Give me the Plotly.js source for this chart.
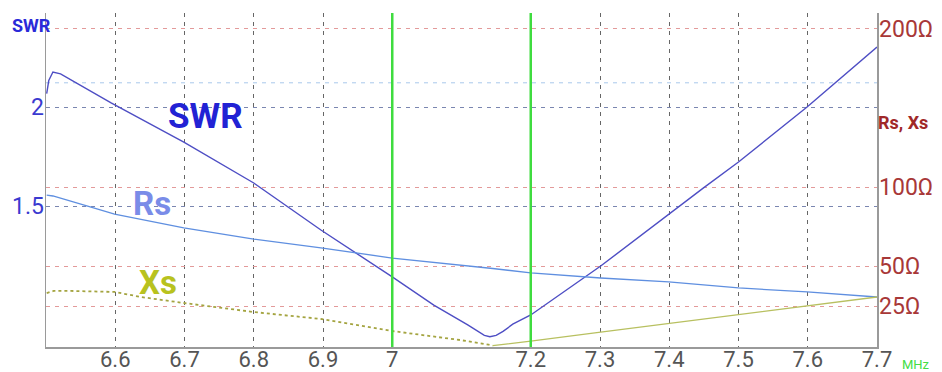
<!DOCTYPE html>
<html>
<head>
<meta charset="utf-8">
<script src="https://cdn.plot.ly/plotly-3.0.1.min.js"></script>
<style>html,body{margin:0;padding:0;background:#fff;}#chart{width:942px;height:372px;}</style>
</head>
<body>
<div id="chart"></div>
<script>
// ---- data ----
const swrFreq = [6.501, 6.504, 6.510, 6.521, 6.594, 6.699, 6.800, 6.897, 7.000, 7.060, 7.109, 7.125, 7.133, 7.141, 7.150, 7.160, 7.174, 7.200, 7.301, 7.449, 7.500, 7.599, 7.700];
const swrValues = [2.080, 2.160, 2.214, 2.202, 2.024, 1.806, 1.604, 1.399, 1.221, 1.125, 1.062, 1.040, 1.030, 1.026, 1.030, 1.042, 1.064, 1.093, 1.260, 1.580, 1.705, 2.000, 2.381];

const rsFreq = [6.501, 6.510, 6.565, 6.599, 6.699, 6.800, 6.897, 7.000, 7.145, 7.200, 7.301, 7.399, 7.500, 7.599, 7.700];
const rsValues = [95.1, 94.5, 87.5, 83.1, 74.3, 67.3, 61.7, 55.3, 48.7, 45.9, 42.7, 40.2, 36.4, 33.9, 30.7];

// Xs magnitude: capacitive part (dotted) and inductive part (solid)
const xsNegFreq = [6.501, 6.511, 6.536, 6.599, 6.637, 6.699, 6.800, 6.897, 7.000, 7.098, 7.139, 7.145];
const xsNegValues = [33.2, 34.5, 34.5, 33.9, 30.7, 26.9, 21.2, 16.8, 9.2, 3.5, 0.6, 0.0];
const xsPosFreq = [7.145, 7.200, 7.301, 7.399, 7.500, 7.599, 7.700];
const xsPosValues = [0.0, 2.8, 8.5, 14.0, 19.5, 25.0, 30.7];

const bandEdges = [7.0, 7.2];
const xTickVals = [6.6, 6.7, 6.8, 6.9, 7.0, 7.2, 7.3, 7.4, 7.5, 7.6, 7.7];
const xTickText = ['6.6', '6.7', '6.8', '6.9', '7', '7.2', '7.3', '7.4', '7.5', '7.6', '7.7'];
const swrTickVals = [1.5, 2];
const swrTickText = ['1.5', '2'];
const ohmTickVals = [25, 50, 100, 200];
const ohmTickText = ['25Ω', '50Ω', '100Ω', '200Ω'];
const ohmRefLine = [166];

const F = 'Roboto, "Liberation Sans", sans-serif';

const traces = [
  {x: rsFreq, y: rsValues, yaxis: 'y2', mode: 'lines', line: {color: '#5f8fe0', width: 1.3}, hoverinfo: 'skip'},
  {x: xsNegFreq, y: xsNegValues, yaxis: 'y2', mode: 'lines', line: {color: '#a4a440', width: 1.8, dash: 'dot'}, hoverinfo: 'skip'},
  {x: xsPosFreq, y: xsPosValues, yaxis: 'y2', mode: 'lines', line: {color: '#b8c060', width: 1.3}, hoverinfo: 'skip'},
  {x: swrFreq, y: swrValues, yaxis: 'y', mode: 'lines', line: {color: '#4e4ec4', width: 1.4}, hoverinfo: 'skip'}
];

const shapes = [];
ohmRefLine.forEach(v => shapes.push({type: 'line', xref: 'paper', x0: 0, x1: 1, yref: 'y2', y0: v, y1: v,
  line: {color: '#a8c8ec', width: 1, dash: '4px,5px'}, layer: 'below'}));
bandEdges.forEach(v => shapes.push({type: 'line', xref: 'x', x0: v, x1: v, yref: 'paper', y0: 0, y1: 1,
  line: {color: '#3fdc3f', width: 2.5}, layer: 'above'}));

const layout = {
  width: 942, height: 372,
  margin: {l: 46, r: 65, t: 13, b: 25},
  paper_bgcolor: '#fff', plot_bgcolor: '#fff',
  showlegend: false,
  font: {family: F},
  xaxis: {
    range: [6.5, 7.7], tickvals: xTickVals, ticktext: xTickText,
    showgrid: true, gridcolor: '#666', gridwidth: 1, griddash: '4px,5px',
    zeroline: false, showline: true, linecolor: '#9a9a9a', linewidth: 1.5,
    ticks: '', tickfont: {size: 22, color: '#555', family: F}, ticklabelstandoff: -8
  },
  yaxis: {
    type: 'log', range: [-0.0018, 0.4197], tickvals: swrTickVals, ticktext: swrTickText,
    showgrid: true, gridcolor: '#7a86b0', gridwidth: 1, griddash: '4px,5px',
    zeroline: false, showline: true, linecolor: '#9a9a9a', linewidth: 1.5,
    ticks: '', tickfont: {size: 23, color: '#3a3ad0', family: F}, ticklabelstandoff: -4
  },
  yaxis2: {
    overlaying: 'y', side: 'right', range: [-0.9, 210.1], tickvals: ohmTickVals, ticktext: ohmTickText,
    showgrid: true, gridcolor: '#e39a9a', gridwidth: 1, griddash: '4px,5px',
    zeroline: false, showline: true, linecolor: '#9a9a9a', linewidth: 1.5,
    ticks: '', tickfont: {size: 23, color: '#a83838', family: F}, ticklabelstandoff: -4
  },
  shapes: shapes,
  annotations: [
    {text: '<b>SWR</b>', xref: 'paper', yref: 'paper', x: -0.043, y: 1.0, xanchor: 'left', yanchor: 'middle', showarrow: false,
     font: {size: 18, color: '#2a2ad8', family: F}, yshift: -12},
    {text: '<b>Rs, Xs</b>', xref: 'paper', yref: 'paper', x: 1.0, y: 0.671, xanchor: 'left', yanchor: 'middle', showarrow: false,
     font: {size: 18, color: '#a02828', family: F}, xshift: -1},
    {text: 'MHz', xref: 'paper', yref: 'paper', x: 1.0, y: 0, xanchor: 'left', yanchor: 'middle', showarrow: false,
     font: {size: 13, color: '#44dd44', family: F}, xshift: 23, yshift: -17},
    {text: '<b>SWR</b>', xref: 'paper', yref: 'paper', x: 0.192, y: 0.689, xanchor: 'center', yanchor: 'middle', showarrow: false,
     font: {size: 35, color: '#2222d4', family: F}},
    {text: '<b>Rs</b>', xref: 'paper', yref: 'paper', x: 0.128, y: 0.431, xanchor: 'center', yanchor: 'middle', showarrow: false,
     font: {size: 33, color: '#7a8ce8', family: F}},
    {text: '<b>Xs</b>', xref: 'paper', yref: 'paper', x: 0.135, y: 0.192, xanchor: 'center', yanchor: 'middle', showarrow: false,
     font: {size: 33, color: '#b8c21e', family: F}}
  ]
};

Plotly.newPlot('chart', traces, layout, {staticPlot: true, displayModeBar: false});
</script>
</body>
</html>
